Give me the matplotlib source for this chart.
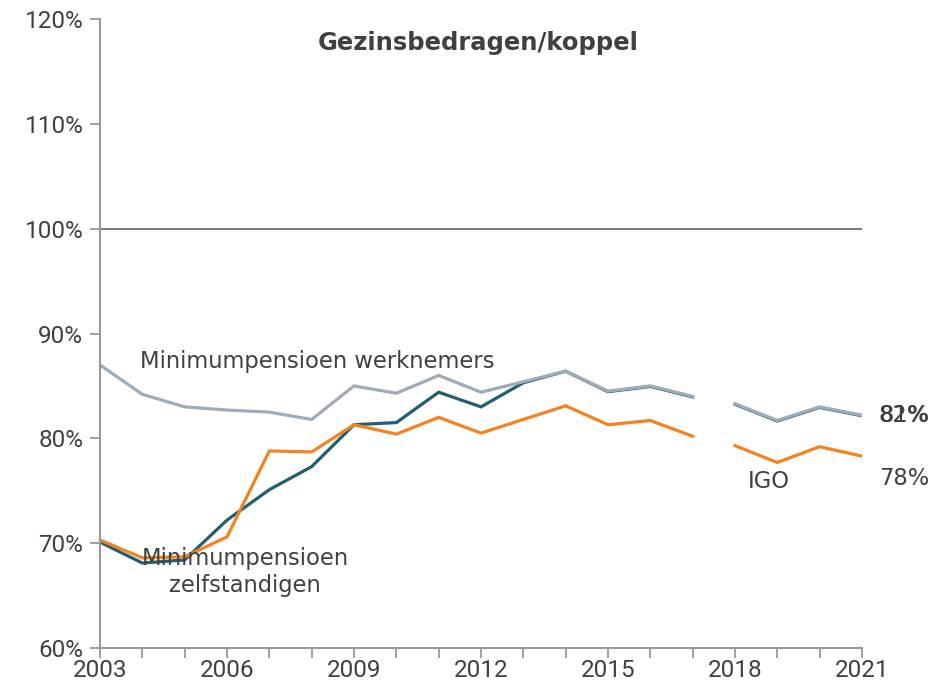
import numpy as np
import matplotlib.pyplot as plt

plt.rcParams['font.family'] = ['DejaVu Sans']

years = list(range(2003, 2022))
werknemers = [87.0, 84.2, 83.0, 82.7, 82.5, 81.8, 85.0, 84.3, 86.0, 84.4, 85.4, 86.4,
              84.5, 85.0, 84.0, 83.3, 81.7, 83.0, 82.2]
zelfstandigen = [70.1, 68.1, 68.4, 72.2, 75.1, 77.3, 81.3, 81.5, 84.4, 83.0, 85.3, 86.4,
                 84.45, 84.95, 83.95, 83.25, 81.65, 82.95, 82.15]
igo = [70.3, 68.6, 68.7, 70.6, 78.8, 78.7, 81.3, 80.4, 82.0, 80.5, 81.8, 83.1,
       81.3, 81.7, 80.2, 79.3, 77.7, 79.2, 78.3]
# series are broken between 2017 and 2018
brk = years.index(2018)

c_grey = '#9eabb9'
c_teal = '#215e72'
c_orange = '#f58220'
c_text = '#404040'

fig = plt.figure(figsize=(9.4, 6.87), dpi=100)
ax = fig.add_axes([0.1064, 0.0568, 0.8106, 0.9155])

for ys, col in [(zelfstandigen, c_teal), (werknemers, c_grey), (igo, c_orange)]:
    ax.plot(years[:brk], ys[:brk], color=col, lw=2.3, solid_joinstyle='miter')
    ax.plot(years[brk:], ys[brk:], color=col, lw=2.3, solid_joinstyle='miter')

ax.axhline(100, color='#555555', lw=1.1)

ax.set_xlim(2003, 2021)
ax.set_ylim(60, 120)
ax.set_xticks(years)
ax.set_xticklabels([str(y) if (y - 2003) % 3 == 0 else '' for y in years])
ax.set_yticks(np.arange(60, 121, 10))
ax.set_yticklabels(['%d%%' % v for v in range(60, 121, 10)])
ax.tick_params(axis='both', colors='#999999', labelcolor=c_text, labelsize=17.5,
               length=7, width=1.3)
ax.tick_params(axis='x', pad=1)
ax.tick_params(axis='y', pad=5)
for lab in ax.get_xticklabels() + ax.get_yticklabels():
    lab.set_family(['Roboto', 'DejaVu Sans'])
for s in ['top', 'right']:
    ax.spines[s].set_visible(False)
for s in ['left', 'bottom']:
    ax.spines[s].set_color('#999999')
    ax.spines[s].set_linewidth(1.5)

ax.text(2011.93, 117.7, 'Gezinsbedragen/koppel', ha='center', va='center',
        fontsize=17.5, fontweight='bold', color=c_text)
ax.text(2003.95, 87.3, 'Minimumpensioen werknemers', ha='left', va='center',
        fontsize=16.3, color=c_text)
ax.text(2006.43, 67.25, 'Minimumpensioen\nzelfstandigen', ha='center', va='center',
        fontsize=16.3, color=c_text, linespacing=1.25)
ax.text(2018.8, 75.9, 'IGO', ha='center', va='center', fontsize=16.3, color=c_text)
ax.text(2021.4, 82.2, '82%', ha='left', va='center', fontsize=16.3, color=c_text,
        clip_on=False)
ax.text(2021.41, 82.2, '81%', ha='left', va='center', fontsize=16.3, color=c_text,
        clip_on=False)
ax.text(2021.4, 76.2, '78%', ha='left', va='center', fontsize=16.3, color=c_text,
        clip_on=False)

fig.savefig('out.png', dpi=100)
